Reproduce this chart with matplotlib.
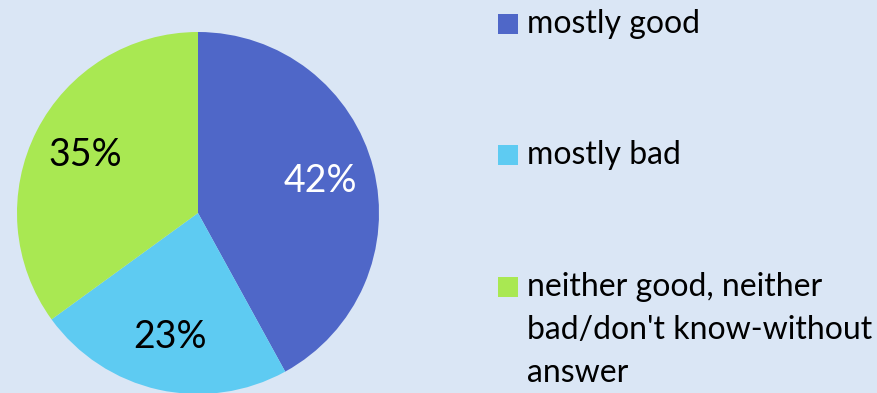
import matplotlib

matplotlib.use("Agg")
import matplotlib.pyplot as plt
from matplotlib.patches import Rectangle

labels = ["mostly good", "mostly bad",
          "neither good, neither\nbad/don't know-without\nanswer"]
shares = [42, 23, 35]
colors = ["#4f67c8", "#5ecbf2", "#a9e852"]
pct_colors = ["white", "black", "black"]

BG = "#dae6f5"
W, H = 877, 393

plt.rcParams["font.family"] = ["Lato", "DejaVu Sans"]

fig = plt.figure(figsize=(W / 100, H / 100), dpi=100, facecolor=BG)

# pie: centre (198, 213) px, radius 181 px
r = 181
cx, cy = 198, H - 213
ax = fig.add_axes([(cx - r) / W, (cy - r) / H, 2 * r / W, 2 * r / H])
ax.set_facecolor(BG)
wedges, _, autotexts = ax.pie(
    shares, colors=colors, startangle=90, counterclock=False,
    autopct="%d%%", pctdistance=0.7, radius=1,
    wedgeprops={"linewidth": 0},
    textprops={"fontsize": 27})
for t, c in zip(autotexts, pct_colors):
    t.set_color(c)
ax.set_xlim(-1, 1)
ax.set_ylim(-1, 1)
ax.set_aspect("equal")
ax.axis("off")

# legend drawn by hand to match the layout
rows_y = [24, 155, 287]
for lab, col, y in zip(labels, colors, rows_y):
    fig.patches.append(Rectangle((498 / W, (H - y - 10) / H), 20 / W, 20 / H,
                                 transform=fig.transFigure, facecolor=col,
                                 edgecolor="none"))
    fig.text(527 / W, (H - y + 15) / H, lab, fontsize=23, va="top",
             ha="left", color="black", linespacing=1.55)

fig.savefig("out.png", dpi=100, facecolor=BG)
